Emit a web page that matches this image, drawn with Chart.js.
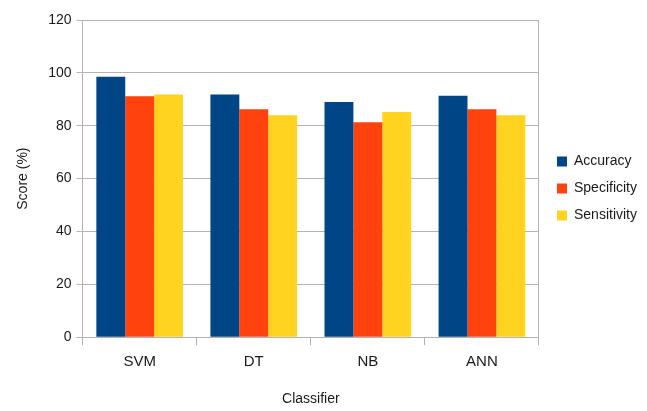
<!DOCTYPE html>
<html>
<head>
<meta charset="utf-8">
<script src="https://cdn.jsdelivr.net/npm/chart.js@4"></script>
<style>
  html, body { margin: 0; padding: 0; background: #fff; }
  #wrap { width: 647px; height: 411px; }
</style>
</head>
<body>
<div id="wrap"><canvas id="chart" width="647" height="411"></canvas></div>
<script>
var classifiers = ["SVM", "DT", "NB", "ANN"];
var accuracy = [98.5, 91.8, 89, 91.3];
var specificity = [91.2, 86.2, 81.3, 86.2];
var sensitivity = [91.8, 84, 85.2, 84];
var scoreTicks = [0, 20, 40, 60, 80, 100, 120];

var fontFamily = "'Liberation Sans', Arial, sans-serif";
var gridColor = "#b3b3b3";
var textColor = "#1a1a1a";

// move the legend up a bit, like the original
var legendShift = {
    id: 'legendShift',
    afterLayout: function (chart) {
        var lg = chart.legend;
        if (lg) {
            lg.top -= 27;
            lg.bottom -= 27;
        }
    }
};

var chart = new Chart(document.getElementById('chart'), {
    type: 'bar',
    data: {
        labels: classifiers,
        datasets: [
            { label: "Accuracy", data: accuracy, backgroundColor: "#004586", borderWidth: 0 },
            { label: "Specificity", data: specificity, backgroundColor: "#ff420e", borderWidth: 0 },
            { label: "Sensitivity", data: sensitivity, backgroundColor: "#ffd320", borderWidth: 0 }
        ]
    },
    options: {
        responsive: false,
        animation: false,
        layout: { padding: { top: 20, left: 4, right: 0, bottom: 0 } },
        datasets: { bar: { categoryPercentage: 0.76, barPercentage: 1.0 } },
        plugins: {
            tooltip: { enabled: false },
            legend: {
                position: 'right',
                labels: {
                    boxWidth: 10,
                    boxHeight: 10,
                    padding: 13,
                    color: textColor,
                    font: { family: fontFamily, size: 14 }
                }
            }
        },
        scales: {
            x: {
                grid: { offset: true, drawOnChartArea: false, drawTicks: true, tickLength: 8, color: gridColor },
                border: { display: true, color: gridColor },
                ticks: { color: textColor, padding: 8, font: { family: fontFamily, size: 15 } },
                title: {
                    display: true, text: "Classifier", color: textColor,
                    font: { family: fontFamily, size: 14 },
                    padding: { top: 11.5, bottom: 3.5 }
                }
            },
            y: {
                min: 0,
                max: 120,
                afterBuildTicks: function (scale) {
                    scale.ticks = scoreTicks.map(function (v) { return { value: v }; });
                },
                grid: { color: gridColor, tickLength: 6 },
                border: { display: true, color: gridColor },
                ticks: { color: textColor, padding: 5, font: { family: fontFamily, size: 14 } },
                title: {
                    display: true, text: "Score (%)", color: textColor,
                    font: { family: fontFamily, size: 14 },
                    padding: { top: 10.5, bottom: 12 }
                }
            },
            yRight: {
                position: 'right',
                display: true,
                grid: { display: false },
                border: { display: true, color: gridColor },
                ticks: { display: false },
                afterFit: function (scale) { scale.width = 5; }
            }
        }
    },
    plugins: [legendShift]
});
</script>
</body>
</html>
